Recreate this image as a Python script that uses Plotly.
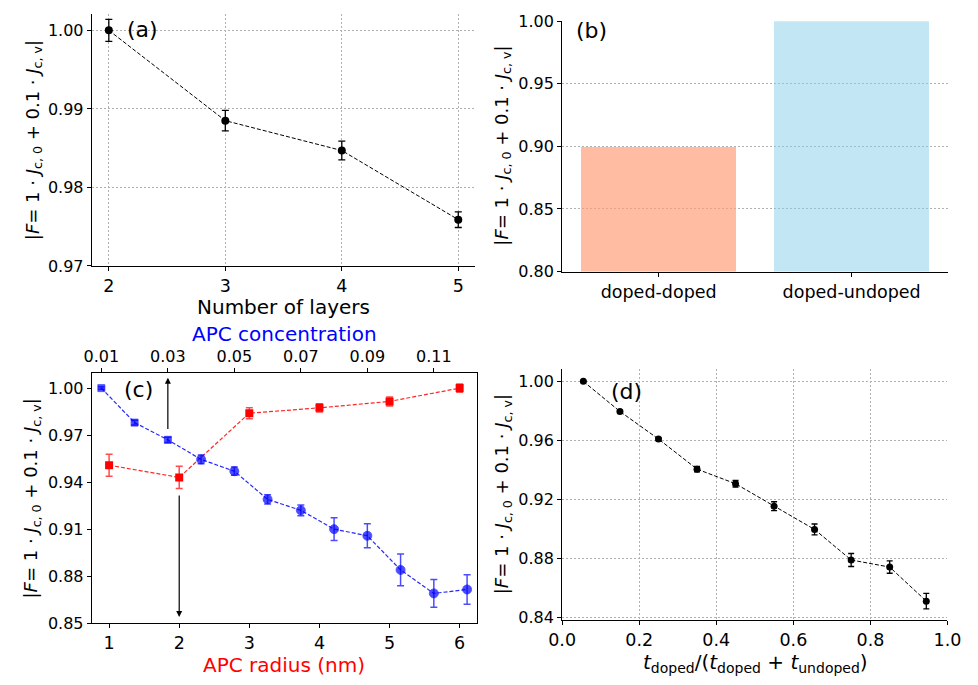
import plotly.graph_objects as go

# ---------------- data ----------------
a_layers = [2, 3, 4, 5]
a_F = [1.000, 0.9885, 0.9847, 0.9759]
a_err = [0.0014, 0.0013, 0.0012, 0.0010]

b_cats = ["doped-doped", "doped-undoped"]
b_F = [0.899, 1.000]

c_radius = [1, 2, 3, 4, 5, 6]
c_red = [0.9508, 0.943, 0.984, 0.9874, 0.9915, 1.000]
c_red_err = [0.0070, 0.0071, 0.0035, 0.0026, 0.0029, 0.0026]

c_conc = [0.01, 0.02, 0.03, 0.04, 0.05, 0.06, 0.07, 0.08, 0.09, 0.10, 0.11, 0.12]
c_blue = [1.000, 0.978, 0.967, 0.9545, 0.947, 0.929, 0.922, 0.910, 0.9058, 0.884, 0.869, 0.8715]
c_blue_err = [0.0008, 0.0015, 0.0017, 0.0028, 0.0026, 0.0030, 0.0034, 0.0073, 0.0077, 0.0101, 0.0089, 0.0094]
c_blue_symbols = ["square", "square", "square"] + ["circle"] * 9

d_frac = [0.055, 0.15, 0.25, 0.35, 0.45, 0.55, 0.655, 0.75, 0.85, 0.945]
d_F = [1.000, 0.9796, 0.9609, 0.9405, 0.9306, 0.9154, 0.8996, 0.8789, 0.8741, 0.851]
d_err = [0.0003, 0.0007, 0.0010, 0.0018, 0.0022, 0.0030, 0.0037, 0.0044, 0.0042, 0.0052]

# ---------------- layout helpers ----------------
W, H = 978, 685
FONT = "DejaVu Sans"
YTITLE = "|<i>F</i>= 1 · <i>J</i><sub>c, 0</sub> + 0.1 · <i>J</i><sub>c, v</sub>|"


def xd(l, r):
    return [l / W, r / W]


def yd(top, bottom):
    return [(H - bottom) / H, (H - top) / H]


grid = dict(showgrid=True, gridcolor="#b0b0b0", gridwidth=0.8, griddash="2px,2px")
base = dict(ticks="outside", ticklen=4, tickwidth=1, tickcolor="black",
            showline=True, linecolor="black", linewidth=1, zeroline=False)
xfont = dict(tickfont=dict(family=FONT, size=17.5, color="black"))
yfont = dict(tickfont=dict(family=FONT, size=16, color="black"))

fig = go.Figure()

# (a)
fig.add_trace(go.Scatter(
    x=a_layers, y=a_F, mode="lines+markers", xaxis="x", yaxis="y",
    line=dict(color="black", width=1, dash="4px,2px"),
    marker=dict(color="black", size=8),
    error_y=dict(type="data", array=a_err, color="black", thickness=1.3, width=3.5),
    showlegend=False))

# (b)
fig.add_trace(go.Bar(
    x=b_cats, y=b_F, xaxis="x2", yaxis="y2", width=0.8,
    marker=dict(color=["rgba(255,160,122,0.7)", "rgba(135,206,235,0.5)"], line=dict(width=0)),
    showlegend=False))

# (c) red
fig.add_trace(go.Scatter(
    x=c_radius, y=c_red, mode="lines+markers", xaxis="x3", yaxis="y3",
    line=dict(color="rgba(255,0,0,0.85)", width=1.2, dash="4px,2px"),
    marker=dict(color="red", size=8, symbol="square"),
    error_y=dict(type="data", array=c_red_err, color="rgba(255,0,0,0.7)", thickness=1.5, width=3.5),
    showlegend=False))

# (c) blue on top axis
fig.add_trace(go.Scatter(
    x=c_conc, y=c_blue, mode="lines+markers", xaxis="x5", yaxis="y3",
    line=dict(color="rgba(0,0,255,0.85)", width=1.2, dash="4px,2px"),
    marker=dict(color="blue", size=[7, 7, 7] + [9] * 9, symbol=c_blue_symbols),
    error_y=dict(type="data", array=c_blue_err, color="rgba(0,0,255,0.7)", thickness=1.5, width=3.5),
    showlegend=False))

# (d)
fig.add_trace(go.Scatter(
    x=d_frac, y=d_F, mode="lines+markers", xaxis="x4", yaxis="y4",
    line=dict(color="black", width=1, dash="4px,2px"),
    marker=dict(color="black", size=7),
    error_y=dict(type="data", array=d_err, color="black", thickness=1.3, width=3),
    showlegend=False))

fig.update_layout(
    width=W, height=H, margin=dict(l=0, r=0, t=0, b=0),
    plot_bgcolor="white", paper_bgcolor="white",
    font=dict(family=FONT, color="black"),
    bargap=0,
    xaxis=dict(domain=xd(80, 475), anchor="y", range=[1.853, 5.147], tickvals=[2, 3, 4, 5],
               **grid, **base, **xfont),
    yaxis=dict(domain=yd(5, 264.3), anchor="x", range=[0.97, 1.0021],
               tickvals=[0.97, 0.98, 0.99, 1.00], tickformat=".2f", **grid, **base, **yfont),
    xaxis2=dict(domain=xd(564.3, 961.7), anchor="y2", range=[-0.5, 1.5], type="category",
                showgrid=False, **base, **xfont),
    yaxis2=dict(domain=yd(12.7, 270), anchor="x2", range=[0.8, 1.0],
                tickvals=[0.80, 0.85, 0.90, 0.95, 1.00], tickformat=".2f", **grid, **base, **yfont),
    xaxis3=dict(domain=xd(80, 476.7), anchor="y3", range=[0.752, 6.248], tickvals=[1, 2, 3, 4, 5, 6],
                showgrid=False, **base, **xfont),
    yaxis3=dict(domain=yd(374.3, 631.7), anchor="x3", range=[0.85, 1.0097], mirror=True,
                tickvals=[0.85, 0.88, 0.91, 0.94, 0.97, 1.00], tickformat=".2f", showgrid=False,
                **base, **yfont),
    xaxis5=dict(overlaying="x3", anchor="y3", side="top", range=[0.0071, 0.123],
                tickvals=[0.01, 0.03, 0.05, 0.07, 0.09, 0.11], tickformat=".2f", showgrid=False,
                **base, **yfont),
    xaxis4=dict(domain=xd(564.3, 961), anchor="y4", range=[0, 1.0],
                tickvals=[0, 0.2, 0.4, 0.6, 0.8, 1.0], tickformat=".1f", **grid, **base, **xfont),
    yaxis4=dict(domain=yd(370.7, 628.3), anchor="x4", range=[0.8383, 1.0081],
                tickvals=[0.84, 0.88, 0.92, 0.96, 1.00], tickformat=".2f", **grid, **base, **yfont),
)

ann = []


def txt(x, y, text, size=20, color="black", angle=0, xanchor="center"):
    ann.append(dict(x=x, y=y, xref="paper", yref="paper", text=text, showarrow=False, textangle=angle,
                    xanchor=xanchor, yanchor="middle",
                    font=dict(family=FONT, size=size, color=color)))


# y titles
txt(20 / W, 1 - 134.5 / H, YTITLE, size=18, angle=-90)
txt(503 / W, 1 - 141 / H, YTITLE, size=18, angle=-90)
txt(19 / W, 1 - 503 / H, YTITLE, size=18, angle=-90)
txt(503 / W, 1 - 499.5 / H, YTITLE, size=18, angle=-90)
# x titles
txt(277.5 / W, 1 - 306 / H, "Number of layers")
txt(278 / W, 1 - 675 / H, "APC radius (nm)", color="red")
txt(278 / W, 1 - 334.5 / H, "APC concentration", color="blue")
txt(763 / W, 1 - 673 / H,
    "<i>t</i><sub>doped</sub>/(<i>t</i><sub>doped</sub> + <i>t</i><sub>undoped</sub>)")
# panel labels
txt(114 / W, 1 - 21 / H, "(a)", size=22, xanchor="left")
txt(576 / W, 1 - 22 / H, "(b)", size=22, xanchor="left")
txt(111 / W, 1 - 391 / H, "(c)", size=22, xanchor="left")
txt(613 / W, 1 - 393 / H, "(d)", size=22, xanchor="left")

# arrows in panel (c)
ann.append(dict(x=0.03, y=1.0066, ax=0.03, ay=0.973, xref="x5", yref="y3", axref="x5", ayref="y3",
                showarrow=True, arrowhead=2, arrowsize=1, arrowwidth=1.2, arrowcolor="black", text=""))
ann.append(dict(x=2, y=0.854, ax=2, ay=0.9325, xref="x3", yref="y3", axref="x3", ayref="y3",
                showarrow=True, arrowhead=2, arrowsize=1, arrowwidth=1.2, arrowcolor="black", text=""))

fig.update_layout(annotations=ann)

fig.write_html("out.html")
